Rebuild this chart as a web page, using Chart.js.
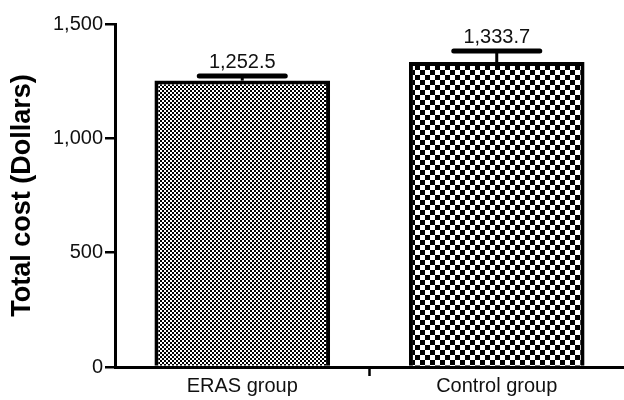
<!DOCTYPE html>
<html lang="en">
  <head>
    <meta charset="UTF-8" />
    <title>Total cost</title>
    <script src="https://cdn.jsdelivr.net/npm/chart.js"></script>
    <style>
      html, body { margin: 0; padding: 0; background: #fff; }
      #wrap { width: 624px; height: 400px; position: relative; }
    </style>
  </head>
  <body>
    <div id="wrap"><canvas id="costChart"></canvas></div>
    <script>
      // data
      var groups = ["ERAS group", "Control group"];
      var meanCost = [1252.5, 1333.7];
      var errCost = [20, 48];
      var valueLabels = ["1,252.5", "1,333.7"];
      var yTicks = [0, 500, 1000, 1500];

      // checker pattern for the bars
      function checker(cell) {
        var c = document.createElement("canvas");
        c.width = cell * 2;
        c.height = cell * 2;
        var g = c.getContext("2d");
        g.fillStyle = "#fff";
        g.fillRect(0, 0, c.width, c.height);
        g.fillStyle = "#000";
        g.fillRect(0, 0, cell, cell);
        g.fillRect(cell, cell, cell, cell);
        return g.createPattern(c, "repeat");
      }

      var font = "'Liberation Sans', Arial, sans-serif";

      // error bars, value labels and the tick between the groups
      var extras = {
        id: "extras",
        afterDatasetsDraw: function (chart) {
          var ctx = chart.ctx;
          var y = chart.scales.y;
          var x = chart.scales.x;
          var meta = chart.getDatasetMeta(0);
          ctx.save();
          meta.data.forEach(function (bar, i) {
            var top = y.getPixelForValue(meanCost[i] + errCost[i]);
            ctx.strokeStyle = "#000";
            ctx.lineWidth = 3;
            ctx.beginPath();
            ctx.moveTo(bar.x, bar.y);
            ctx.lineTo(bar.x, top);
            ctx.stroke();
            ctx.lineWidth = 5;
            ctx.lineCap = "round";
            ctx.beginPath();
            ctx.moveTo(bar.x - 43, top);
            ctx.lineTo(bar.x + 43, top);
            ctx.stroke();
            ctx.lineCap = "butt";
            ctx.fillStyle = "#111";
            ctx.font = "20px " + font;
            ctx.textAlign = "center";
            ctx.textBaseline = "alphabetic";
            ctx.fillText(valueLabels[i], bar.x, top - 8);
          });
          // middle tick under the x axis
          var mx = x.getPixelForValue(0.5);
          ctx.strokeStyle = "#000";
          ctx.lineWidth = 2.5;
          ctx.beginPath();
          ctx.moveTo(mx, y.bottom);
          ctx.lineTo(mx, y.bottom + 9);
          ctx.stroke();
          ctx.restore();
        },
      };

      var ctx = document.getElementById("costChart").getContext("2d");
      var costChart = new Chart(ctx, {
        type: "bar",
        data: {
          labels: groups,
          datasets: [
            {
              data: meanCost,
              backgroundColor: [checker(2), checker(5)],
              borderColor: "#000",
              borderWidth: 4,
              categoryPercentage: 1,
              barPercentage: 0.69,
            },
          ],
        },
        options: {
          responsive: true,
          maintainAspectRatio: false,
          animation: false,
          layout: { padding: { top: 24, right: 0, left: 0, bottom: 0 } },
          plugins: { legend: { display: false }, tooltip: { enabled: false } },
          scales: {
            x: {
              grid: { display: false },
              border: { color: "#000", width: 3 },
              ticks: {
                color: "#111",
                font: { family: font, size: 20, lineHeight: 1 },
                padding: 1,
              },
              afterFit: function (s) { s.height = 33; },
            },
            y: {
              min: 0,
              max: 1500,
              afterBuildTicks: function (s) {
                s.ticks = yTicks.map(function (v) { return { value: v }; });
              },
              grid: {
                drawOnChartArea: false,
                drawTicks: true,
                tickLength: 10,
                color: "#000",
                lineWidth: 2.5,
              },
              border: { color: "#000", width: 3 },
              ticks: {
                color: "#111",
                font: { family: font, size: 20 },
                padding: 2,
                callback: function (v) { return v.toLocaleString("en-US"); },
              },
              title: {
                display: true,
                text: "Total cost (Dollars)",
                color: "#000",
                font: { family: font, size: 27, weight: "bold" },
                padding: { top: 6, bottom: 0 },
              },
              afterFit: function (s) { s.width = 115; },
            },
          },
        },
        plugins: [extras],
      });
    </script>
  </body>
</html>
